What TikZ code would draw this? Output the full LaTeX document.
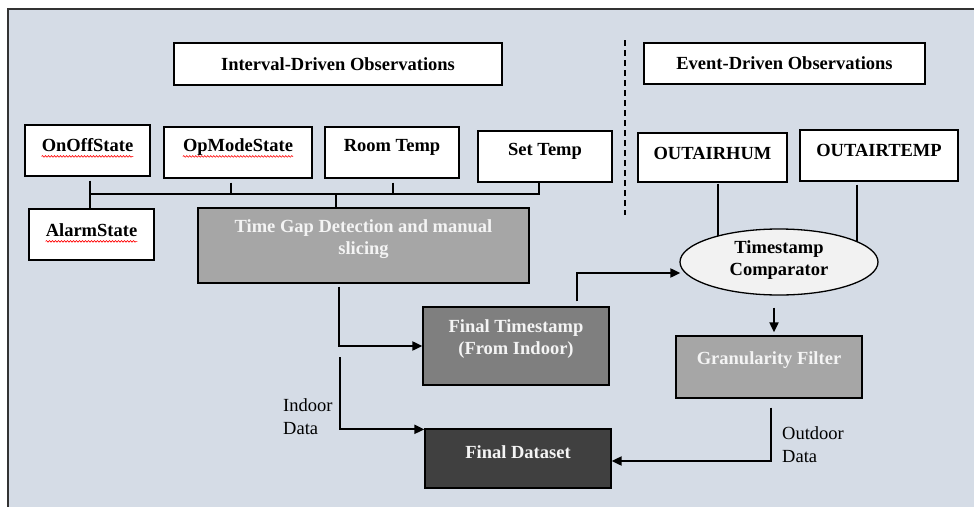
\documentclass[tikz,border=0pt]{standalone}
\usepackage{fontspec}
\setmainfont{Liberation Serif}
\newfontfamily\tnr{Liberation Serif}
\usetikzlibrary{arrows.meta,decorations.pathmorphing,shapes.geometric}
\pgfdeclarelayer{bg}
\pgfsetlayers{bg,main}
\definecolor{bgc}{HTML}{D5DCE6}
\definecolor{gmid}{HTML}{A6A6A6}
\definecolor{gdark}{HTML}{7F7F7F}
\definecolor{gdeep}{HTML}{404040}
\definecolor{ellc}{HTML}{F2F2F2}
\definecolor{wtxt}{HTML}{F4F4F4}
\begin{document}
\begin{tikzpicture}[x=1pt,y=-1pt,
  box/.style={draw=black, line width=1.3pt, fill=white, inner sep=0pt},
  lbl/.style={font=\tnr\fontsize{18.5}{22}\selectfont\bfseries, align=center, inner sep=0pt},
  wlbl/.style={lbl, text=wtxt},
  plain/.style={font=\tnr\fontsize{18.5}{23}\selectfont, align=left, inner sep=0pt},
  conn/.style={line width=2pt},
  arr/.style={conn, -{Triangle[length=10pt,width=9pt]}},
  squig/.style={red, line width=0.6pt, decorate, decoration={snake, amplitude=0.8pt, segment length=3pt}}]
\clip (0,0) rectangle (974,506);
\useasboundingbox (0,0) rectangle (974,506);
\begin{pgfonlayer}{bg}
\fill[white] (0,0) rectangle (974,506);
\fill[bgc] (8,9) rectangle (985,520);
\draw[line width=2pt, black!80] (985,9) -- (8,9) -- (8,520);
\end{pgfonlayer}

% header boxes
\node[box, minimum width=328pt, minimum height=42pt] (intv) at (338,64) {};
\node[lbl] (intvT) at (338,64) {Interval-Driven Observations};
\node[box, minimum width=281pt, minimum height=41pt] (event) at (784.5,63.5) {};
\node[lbl] (eventT) at (784.5,63.5) {Event-Driven Observations};

% dashed separator
\coordinate (dsA) at (625,40);
\coordinate (dsB) at (625,215);
\draw[line width=1.4pt, dash pattern=on 6pt off 4pt] (dsA) -- (dsB);

% indoor variable boxes
\node[box, minimum width=125pt, minimum height=51pt] (onoff) at (87.5,150.5) {};
\node[lbl] (onoffT) at (87.5,145) {OnOffState};
\node[box, minimum width=148pt, minimum height=51pt] (opmode) at (238,152.5) {};
\node[lbl] (opmodeT) at (238,147) {OpModeState};
\node[box, minimum width=134pt, minimum height=51pt] (room) at (392,152.5) {};
\node[lbl] (roomT) at (392,147) {Room Temp};
\node[box, minimum width=134pt, minimum height=51pt] (settemp) at (545,156.5) {};
\node[lbl] (settempT) at (545,151) {Set Temp};
\node[box, minimum width=125pt, minimum height=51pt] (alarm) at (91.5,234.5) {};
\node[lbl] (alarmT) at (91.5,230) {AlarmState};

\draw[squig] ([yshift=-5pt]onoffT.base west) -- ([yshift=-5pt]onoffT.base east);
\draw[squig] ([yshift=-5pt]opmodeT.base west) -- ([yshift=-5pt]opmodeT.base east);
\draw[squig] ([yshift=-5pt]alarmT.base west) -- ([yshift=-5pt]alarmT.base east);

% outdoor variable boxes
\node[box, minimum width=149pt, minimum height=49pt] (hum) at (712.5,157.5) {};
\node[lbl] (humT) at (712.5,153) {OUTAIRHUM};
\node[box, minimum width=158pt, minimum height=51pt] (otemp) at (879,155.5) {};
\node[lbl] (otempT) at (879,150) {OUTAIRTEMP};

% processing boxes
\node[box, fill=gmid, minimum width=331pt, minimum height=75pt] (timegap) at (363.5,245.5) {};
\node[wlbl] (timegapT) at (363.5,239.5) {Time Gap Detection and manual\\slicing};
\node[box, fill=gdark, minimum width=186pt, minimum height=78pt] (finalts) at (516,346) {};
\node[wlbl] (finaltsT) at (516,339.5) {Final Timestamp\\(From Indoor)};
\node[box, fill=gdeep, minimum width=186pt, minimum height=59pt] (dataset) at (518,458.5) {};
\node[wlbl] (datasetT) at (518,452) {Final Dataset};
\node[box, fill=gmid, minimum width=186pt, minimum height=62pt] (granul) at (769,367) {};
\node[wlbl] (granulT) at (769,360) {Granularity Filter};
\node[draw=black, line width=1.3pt, fill=ellc, ellipse, minimum width=198pt, minimum height=66pt, inner sep=0pt] (comp) at (779,262) {};
\node[lbl] (compT) at (779,260) {Timestamp\\Comparator};

% labels
\node[plain, anchor=west] (indoorL) at (283,416.5) {Indoor\\Data};
\node[plain, anchor=west] (outdoorL) at (782,444.5) {Outdoor\\Data};

% bus connectors
\coordinate (b1) at (90,194);
\coordinate (b2) at (231,194);
\coordinate (b3) at (393,194);
\coordinate (b4) at (539,194);
\coordinate (bt) at (336,194);
\draw[conn] ([yshift=-4pt]onoff.south -| b1) -- (alarm.north -| b1);
\draw[conn] ([yshift=-4pt]opmode.south -| b2) -- (b2);
\draw[conn] ([yshift=-4pt]room.south -| b3) -- (b3);
\draw[conn] (b1) -- (b4) -- (settemp.south -| b4);
\draw[conn] (bt) -- (timegap.north -| bt);

% flow arrows
\coordinate (tgx) at (339,0);
\draw[arr] ([yshift=-3pt]timegap.south -| tgx) |- (finalts.west);
\coordinate (inx) at (340,357);
\draw[arr] (inx) |- ([yshift=-1pt]dataset.north west);
\coordinate (ftx) at (577,0);
\draw[arr] ([yshift=5pt]finalts.north -| ftx) |- ([yshift=-11pt,xshift=1pt]comp.west);
\coordinate (cgx) at (774,0);
\draw[arr] ([yshift=-12pt]comp.south -| cgx) -- ([yshift=3pt]granul.north -| cgx);
\coordinate (gdx) at (771,0);
\draw[arr] ([yshift=-9pt]granul.south -| gdx) |- ([yshift=-2.5pt]dataset.east);

\begin{pgfonlayer}{bg}
\coordinate (hx) at (718,0);
\coordinate (tx) at (857,0);
\draw[conn] ([yshift=-1pt]hum.south -| hx) -- (comp.center -| hx);
\draw[conn] ([yshift=-3pt]otemp.south -| tx) -- (comp.center -| tx);
\end{pgfonlayer}
\end{tikzpicture}
\end{document}
